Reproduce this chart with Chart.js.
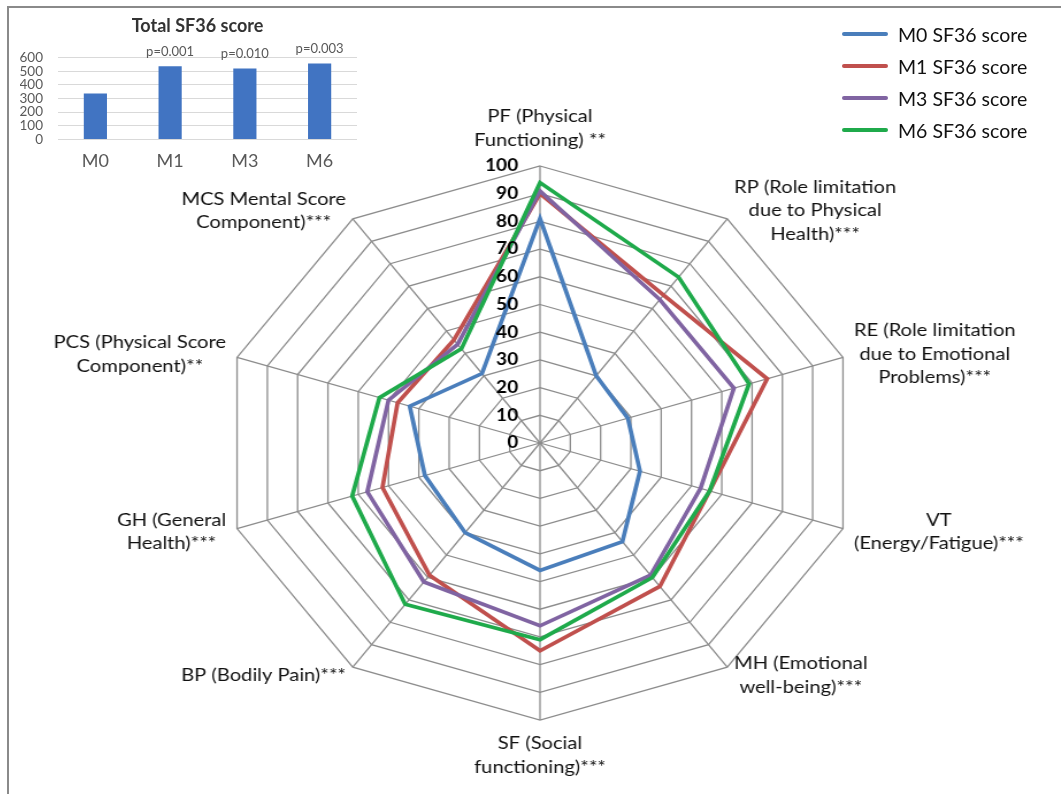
<!DOCTYPE html>
<html lang="en">
<head>
<meta charset="UTF-8">
<title>SF36 score</title>
<script src="https://cdn.jsdelivr.net/npm/chart.js@4.4.1/dist/chart.umd.min.js"></script>
<style>
    html, body { margin: 0; padding: 0; background: #fff; width: 1061px; height: 794px; overflow: hidden; font-family: Lato, sans-serif; }
    #frame { position: absolute; left: 7px; top: 6px; width: 1100px; height: 900px; border-top: 2px solid #8a8a8a; border-left: 2px solid #8a8a8a; }
    #radarBox { position: absolute; left: 90px; top: 96px; width: 900px; height: 694px; transform: scaleX(1.15); transform-origin: 50% 50%; }
    #barBox { position: absolute; left: 6px; top: 8px; width: 355px; height: 175px; z-index: 2; }
    #legend { position: absolute; left: 842px; top: 18px; z-index: 2; }
    .item { display: flex; align-items: center; height: 32px; font-size: 19.5px; color: #111; }
    .swatch { width: 46px; height: 4px; border-radius: 2px; margin-right: 10px; }
</style>
</head>
<body>
<div id="frame"></div>
<div id="radarBox"><canvas id="radarChart"></canvas></div>
<div id="barBox"><canvas id="barChart"></canvas></div>
<div id="legend"></div>
<script>
    // radar axes (clockwise from top)
    const axisLabels = [
        ['PF (Physical', 'Functioning) **'],
        ['RP (Role limitation', 'due to Physical', 'Health)***'],
        ['RE (Role limitation', 'due to Emotional', 'Problems)***'],
        ['VT', '(Energy/Fatigue)***'],
        ['MH (Emotional', 'well-being)***'],
        ['SF (Social', 'functioning)***'],
        ['BP (Bodily Pain)***'],
        ['GH (General', 'Health)***'],
        ['PCS (Physical Score', 'Component)**'],
        ['MCS Mental Score', 'Component)***']
    ];
    const seriesNames = ['M0 SF36 score', 'M1 SF36 score', 'M3 SF36 score', 'M6 SF36 score'];
    const seriesColors = ['#4a7ebb', '#c0504d', '#8064a2', '#1faa4b'];
    const m0 = [81, 30, 29, 33, 44, 46, 40, 38, 43, 31];
    const m1 = [90, 66, 75, 56, 64, 75, 59, 52, 47, 46];
    const m3 = [91, 64, 64, 53, 59, 66, 62, 57, 50, 44];
    const m6 = [94, 74, 69, 56, 60, 71, 72, 62, 53, 42];

    // inset bar chart
    const visits = ['M0', 'M1', 'M3', 'M6'];
    const totalScore = [337, 537, 520, 557];
    const pValues = ['', 'p=0.001', 'p=0.010', 'p=0.003'];

    Chart.defaults.font.family = 'Lato';

    // axis names and bold tick numbers, placed with the radial scale
    const spokeLabels = {
        id: 'spokeLabels',
        afterDraw(chart) {
            const r = chart.scales.r;
            const ctx = chart.ctx;
            const lh = 23.5;
            ctx.save();
            ctx.fillStyle = '#111';
            ctx.font = '17.5px Lato';
            ctx.textAlign = 'center';
            ctx.textBaseline = 'middle';
            axisLabels.forEach((lines, i) => {
                const p = r.getPointPosition(i, r.drawingArea + 10);
                const deg = (Math.round((p.angle + Math.PI / 2) * 180 / Math.PI) + 360) % 360;
                const w = Math.max(...lines.map(t => ctx.measureText(t).width));
                let cx = p.x;
                let top = p.y - lines.length * lh / 2;
                if (deg === 0) top = p.y - lines.length * lh - 4;
                else if (deg === 180) top = p.y + 2;
                else if (deg < 180) cx = p.x + w / 2;
                else cx = p.x - w / 2;
                lines.forEach((t, k) => ctx.fillText(t, cx, top + lh * (k + 0.5)));
            });
            ctx.font = 'bold 16.5px Lato';
            ctx.fillStyle = '#000';
            ctx.textAlign = 'right';
            r.ticks.forEach(t => {
                const d = r.getDistanceFromCenterForValue(t.value);
                ctx.fillText(t.value, r.xCenter - 19, r.yCenter - d);
            });
            ctx.restore();
        }
    };

    const series = [m0, m1, m3, m6];
    const radar = new Chart(document.getElementById('radarChart'), {
        type: 'radar',
        data: {
            labels: axisLabels,
            datasets: series.map((vals, i) => ({
                label: seriesNames[i],
                data: vals,
                borderColor: seriesColors[i],
                backgroundColor: seriesColors[i],
                borderWidth: 3.7,
                pointRadius: 0,
                fill: false,
                order: series.length - 1 - i
            }))
        },
        options: {
            responsive: true,
            maintainAspectRatio: false,
            animation: false,
            events: [],
            layout: { padding: { top: 70, bottom: 70, left: 150, right: 150 } },
            plugins: { legend: { display: false }, tooltip: { enabled: false } },
            scales: {
                r: {
                    min: 0,
                    max: 100,
                    ticks: { stepSize: 10, display: false },
                    pointLabels: { display: false },
                    grid: { color: '#8c8c8c', lineWidth: 1.3 },
                    angleLines: { color: '#8c8c8c', lineWidth: 1.3 }
                }
            }
        },
        plugins: [spokeLabels]
    });

    // html legend from the radar datasets
    const legend = document.getElementById('legend');
    radar.data.datasets.forEach(ds => {
        const row = document.createElement('div');
        row.className = 'item';
        const sw = document.createElement('span');
        sw.className = 'swatch';
        sw.style.background = ds.borderColor;
        row.appendChild(sw);
        row.appendChild(document.createTextNode(ds.label));
        legend.appendChild(row);
    });

    const pLabels = {
        id: 'pLabels',
        afterDatasetsDraw(chart) {
            const ctx = chart.ctx;
            ctx.save();
            ctx.font = '13px Lato';
            ctx.fillStyle = '#595959';
            ctx.textAlign = 'center';
            ctx.textBaseline = 'middle';
            chart.getDatasetMeta(0).data.forEach((bar, i) => {
                if (pValues[i]) ctx.fillText(pValues[i], bar.x, bar.y - 14.5);
            });
            ctx.restore();
        }
    };

    new Chart(document.getElementById('barChart'), {
        type: 'bar',
        data: {
            labels: visits,
            datasets: [{
                data: totalScore,
                backgroundColor: '#4174c2',
                barPercentage: 0.31,
                categoryPercentage: 1
            }]
        },
        options: {
            responsive: true,
            maintainAspectRatio: false,
            animation: false,
            events: [],
            layout: { padding: { left: 14, right: 4, top: 7, bottom: 0 } },
            plugins: {
                legend: { display: false },
                tooltip: { enabled: false },
                title: {
                    display: true,
                    text: '\u2002\u2002Total SF36 score',
                    color: '#333',
                    font: { size: 18, weight: 'bold' },
                    padding: { top: 0, bottom: 21 }
                }
            },
            scales: {
                x: {
                    grid: { display: false, drawTicks: false },
                    border: { display: false },
                    ticks: { color: '#595959', font: { size: 18 }, padding: 11 }
                },
                y: {
                    min: 0,
                    max: 600,
                    ticks: { stepSize: 100, autoSkip: false, color: '#595959', font: { size: 13.5, lineHeight: 1 }, padding: 15 },
                    grid: { color: '#d9d9d9', drawTicks: false },
                    border: { display: false },
                    afterFit: axis => { axis.width = 38; }
                }
            }
        },
        plugins: [pLabels]
    });
</script>
</body>
</html>
